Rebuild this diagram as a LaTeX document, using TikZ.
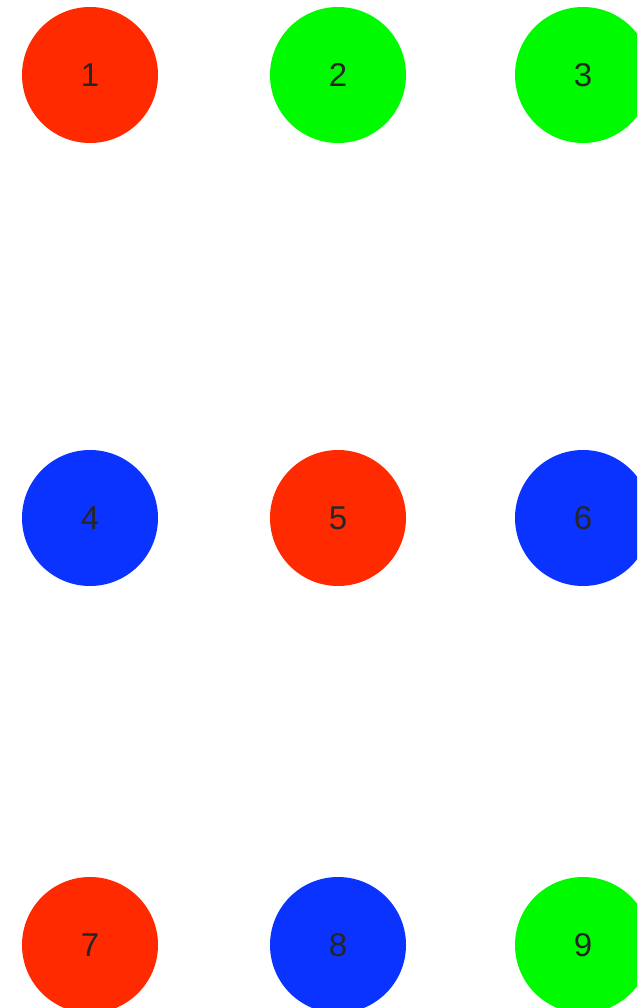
\documentclass[tikz,border=0pt]{standalone}
\usepackage{fontspec}
\setmainfont{Liberation Sans}
\usepackage{tikz}

\definecolor{dotred}{RGB}{255,42,0}
\definecolor{dotgreen}{RGB}{0,250,0}
\definecolor{dotblue}{RGB}{10,51,255}

\begin{document}
\begin{tikzpicture}[x=1pt,y=-1pt,
  dot/.style={circle,minimum size=136pt,inner sep=0pt,
    font=\fontsize{33}{40}\selectfont,text=black!85}]
% Frame
\clip (0,0) rectangle (637,1008);

% Top row
\node[dot,fill=dotred] (n1) at (90,75) {1};
\node[dot,fill=dotgreen] (n2) at (338,75) {2};
\node[dot,fill=dotgreen] (n3) at (583,75) {3};

% Middle row
\node[dot,fill=dotblue] (n4) at (90,518) {4};
\node[dot,fill=dotred] (n5) at (338,518) {5};
\node[dot,fill=dotblue] (n6) at (583,518) {6};

% Bottom row
\node[dot,fill=dotred] (n7) at (90,945) {7};
\node[dot,fill=dotblue] (n8) at (338,945) {8};
\node[dot,fill=dotgreen] (n9) at (583,945) {9};
\end{tikzpicture}
\end{document}
